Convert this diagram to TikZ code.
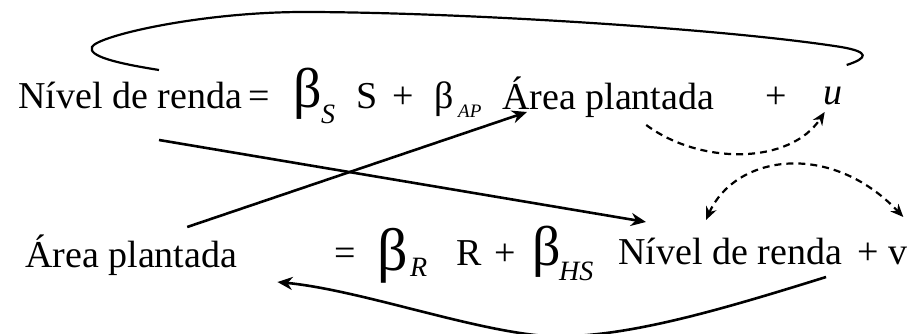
\documentclass[tikz,border=0pt]{standalone}
\usepackage{fontspec}
\setmainfont{Liberation Serif}
\usetikzlibrary{arrows.meta,calc}

\begin{document}
\begin{tikzpicture}[x=1pt,y=-1pt,
  txt/.style={anchor=base west,inner sep=0pt,font=\fontsize{38}{40}\selectfont},
  bigb/.style={anchor=base west,inner sep=0pt,font=\fontsize{56}{60}\selectfont},
  sub/.style={anchor=base west,inner sep=0pt,font=\fontsize{28}{30}\selectfont\itshape},
  link/.style={line width=2.6pt,-{Stealth[length=15pt,width=13pt]}},
  dlink/.style={line width=2.2pt,dash pattern=on 7pt off 5pt}]
\useasboundingbox (0,0) rectangle (911,334);
% first equation
\node[txt] (nr1) at (18,109) {Nível de renda};
\node[txt] (eq1) at (248,109) {=};
\node[bigb] (bS) at (293,108) {β};
\node[sub] (sS) at (321,124) {S};
\node[txt] (S) at (356,109) {S};
\node[txt] (pl1) at (392,109) {+};
\node[txt] (bAP) at (434,109) {β};
\node[sub,font=\fontsize{19}{20}\selectfont\itshape] (sAP) at (458,118) {AP};
\node[txt] (ap1) at (502,110) {Área plantada};
\node[txt] (pl2) at (765,109) {+};
\node[txt,font=\fontsize{38}{40}\selectfont\itshape] (u) at (823,105) {u};
% second equation
\node[txt] (ap2) at (25,267) {Área plantada};
\node[txt] (eq2) at (334,265) {=};
\node[bigb,font=\fontsize{60}{64}\selectfont] (bR) at (377,270) {β};
\node[sub] (sR) at (410,276) {R};
\node[txt] (R) at (456,265) {R};
\node[txt] (pl3) at (494,265) {+};
\node[bigb] (bHS) at (532,265) {β};
\node[sub] (sHS) at (559,280) {HS};
\node[txt] (nr2) at (618,264) {Nível de renda};
\node[txt] (v) at (857,264) {+ v};
% connectors
\draw[link] ($(nr1.base)+(29,31)$) -- ($(nr2.base west)+(28,-42)$);
\draw[link] ($(ap2.base)+(56,-40)$) -- ($(ap1.base west)+(25,2)$);
\draw[line width=2.2pt] ($(nr1.base)+(29,-39)$) .. controls (115,63) and (88,56) .. (92,47)
  .. controls (97,36) and (200,12) .. (304,12)
  .. controls (450,12) and (720,28) .. (841,47) .. controls (870,52) and (868,58) .. ($(u.base)+(14,-40)$);
\draw[dlink,-{Stealth[length=13pt,width=11pt]}] ($(ap1.base)+(38,15)$) .. controls (700,165) and (790,165) .. ($(u.base)+(-8,7)$);
\draw[dlink,{Stealth[length=13pt,width=11pt]}-{Stealth[length=13pt,width=11pt]}] ($(nr2.base west)+(88,-44)$) .. controls (735,155) and (830,140) .. ($(v.base east)+(-4,-47)$);
\draw[link] ($(nr2.base east)+(-16,13)$) .. controls (720,310) and (620,340) .. (545,336)
  .. controls (470,330) and (360,290) .. ($(ap2.base east)+(40,15)$);
\end{tikzpicture}
\end{document}
